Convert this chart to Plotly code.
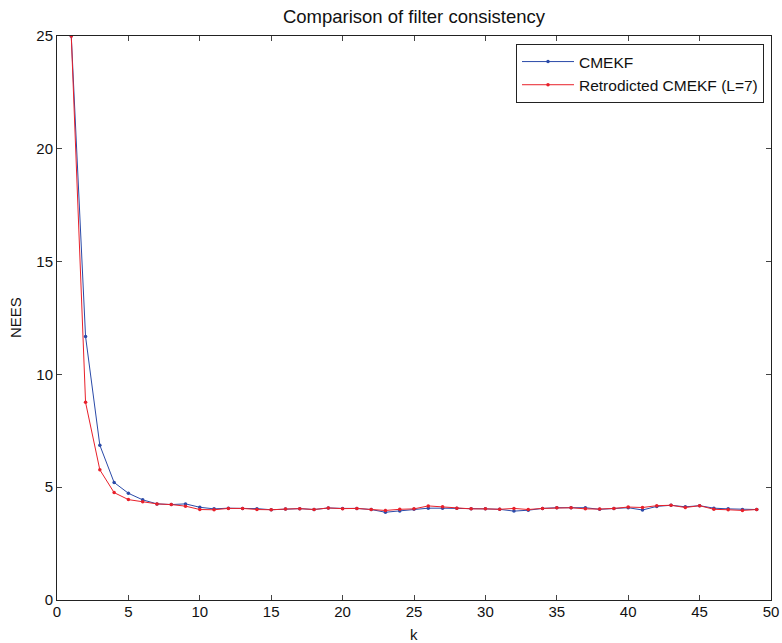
import plotly.graph_objects as go

k = list(range(1, 50))
cmekf = [25.0, 11.68, 6.86, 5.21, 4.73, 4.44, 4.26, 4.23, 4.26, 4.11,
         4.04, 4.07, 4.06, 4.05, 4.00, 4.03, 4.05, 4.01, 4.08, 4.06,
         4.06, 4.01, 3.89, 3.95, 4.02, 4.07, 4.07, 4.07, 4.04, 4.04,
         4.02, 3.94, 3.98, 4.06, 4.09, 4.09, 4.09, 4.02, 4.06, 4.09,
         3.99, 4.15, 4.20, 4.13, 4.18, 4.07, 4.04, 4.01, 4.01]
retro = [25.0, 8.76, 5.77, 4.76, 4.45, 4.35, 4.26, 4.23, 4.16, 4.01,
         4.00, 4.06, 4.06, 4.01, 4.00, 4.03, 4.05, 4.01, 4.08, 4.05,
         4.06, 4.01, 3.97, 4.02, 4.04, 4.17, 4.13, 4.07, 4.04, 4.04,
         4.02, 4.06, 4.01, 4.06, 4.09, 4.09, 4.04, 4.03, 4.06, 4.12,
         4.10, 4.18, 4.20, 4.10, 4.18, 4.02, 4.00, 3.97, 4.01]

x_ticks = [0, 5, 10, 15, 20, 25, 30, 35, 40, 45, 50]
y_ticks = [0, 5, 10, 15, 20, 25]

font = "Liberation Sans, Arial, Helvetica, sans-serif"
W, H = 782, 643
L, R, T, B = 57, 11, 36, 43
pw, ph = W - L - R, H - T - B

fig = go.Figure()
fig.add_trace(go.Scatter(x=k, y=cmekf, mode="lines+markers", name="CMEKF",
                         line=dict(color="#2a4aa8", width=1),
                         marker=dict(color="#2a4aa8", size=3.5)))
fig.add_trace(go.Scatter(x=k, y=retro, mode="lines+markers", name="Retrodicted CMEKF (L=7)",
                         line=dict(color="#e8202a", width=1),
                         marker=dict(color="#e8202a", size=3.5)))

axis_common = dict(showgrid=False, zeroline=False, showline=True, linecolor="#222",
                   linewidth=1, mirror="ticks", ticks="inside", ticklen=5,
                   tickcolor="#444", automargin=False,
                   tickfont=dict(size=15, color="#111", family=font))

fig.update_layout(
    width=W, height=H,
    margin=dict(l=L, r=R, t=T, b=B),
    plot_bgcolor="white", paper_bgcolor="white",
    font=dict(family=font, size=15, color="#111"),
    title=dict(text="Comparison of filter consistency", x=(L + pw / 2) / W, xanchor="center",
               xref="container", y=1 - 17 / H, yanchor="middle", yref="container",
               font=dict(size=18.5, family=font, color="#111")),
    xaxis=dict(range=[0, 50], tickvals=x_ticks, ticklabelstandoff=-2, **axis_common),
    yaxis=dict(range=[0, 25], tickvals=y_ticks, **axis_common),
    legend=dict(x=(764 - L) / pw, y=1 - (44 - T) / ph, xanchor="right", yanchor="top",
                bordercolor="#222", borderwidth=1, bgcolor="white",
                font=dict(size=15.5, family=font), tracegroupgap=0, itemwidth=52),
    showlegend=True,
)

fig.add_annotation(text="k", xref="paper", yref="paper", x=0.5, y=-(634 - (T + ph)) / ph,
                   xanchor="center", yanchor="middle", showarrow=False,
                   font=dict(size=15, family=font, color="#111"))
fig.add_annotation(text="NEES", xref="paper", yref="paper", x=-(L - 15) / pw, y=0.5,
                   xanchor="center", yanchor="middle", textangle=-90, showarrow=False,
                   font=dict(size=15, family=font, color="#111"))

fig.write_html("out.html", config={"displayModeBar": False},
               post_script="document.body.style.margin='0';document.body.style.overflow='hidden';")
